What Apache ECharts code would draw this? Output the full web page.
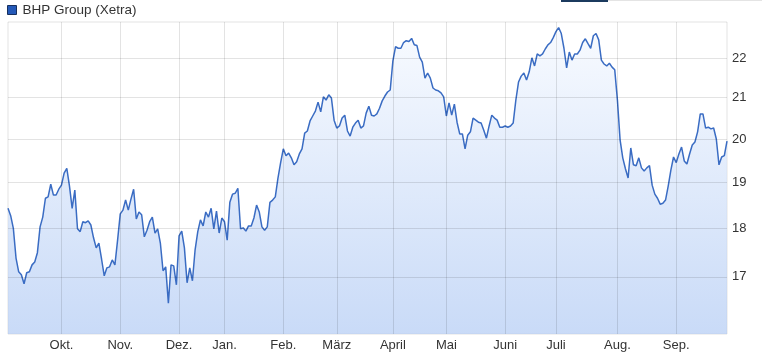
<!DOCTYPE html>
<html>
<head>
<meta charset="utf-8">
<script src="https://cdn.jsdelivr.net/npm/echarts@6/dist/echarts.min.js"></script>
<style>
  html, body { margin: 0; padding: 0; background: #fff; }
  #chart { width: 762px; height: 355px; }
</style>
</head>
<body>
<div id="chart"></div>
<script>
// ---- data (BHP Group, Xetra, EUR; one value per trading day) ----
const seriesName = 'BHP Group (Xetra)';
const monthLabels = ['Sep.', 'Okt.', 'Nov.', 'Dez.', 'Jan.', 'Feb.', 'März', 'April', 'Mai', 'Juni', 'Juli', 'Aug.', 'Sep.'];
const yTicks = [17, 18, 19, 20, 21, 22];

const pricesSepPrev = [18.43,18.27,18.00,17.38,17.10,17.04,16.86,17.08,17.10,17.24,17.30,17.49,18.03,18.24,18.65,18.68,18.96,18.72,18.72,18.85];
const pricesOkt = [18.94,19.21,19.32,18.92,18.43,18.83,17.99,17.93,18.14,18.12,18.16,18.07,17.80,17.59,17.69,17.36,17.02,17.18,17.20,17.34,17.24,17.75];
const pricesNov = [18.31,18.39,18.61,18.39,18.63,18.85,18.20,18.35,18.29,17.82,17.96,18.14,18.24,17.90,17.99,17.69,17.12,17.20,16.48,17.24,17.22,16.84];
const pricesDez = [17.84,17.94,17.59,16.88,17.18,16.92,17.55,17.93,18.18,18.05,18.35,18.24,18.43,17.99,18.37,17.90,18.22];
const pricesJan = [18.14,17.75,18.56,18.74,18.76,18.87,17.99,18.01,17.94,18.05,18.05,18.22,18.50,18.35,18.03,17.96,18.03,18.56,18.61,18.68,19.10,19.45];
const pricesFeb = [19.77,19.61,19.67,19.56,19.40,19.47,19.65,19.77,20.14,20.19,20.43,20.55,20.67,20.89,20.65,21.02,20.94,21.07,20.99,20.45];
const pricesMar = [20.26,20.31,20.50,20.57,20.19,20.07,20.28,20.38,20.45,20.26,20.31,20.62,20.79,20.57,20.55,20.60,20.74,20.92,21.04,21.14,21.19];
const pricesApr = [21.93,22.30,22.26,22.26,22.41,22.46,22.44,22.52,22.35,22.33,22.03,21.90,21.49,21.62,21.49,21.24,21.19,21.17,21.12,21.02];
const pricesMai = [20.55,20.87,20.57,20.84,20.40,20.12,20.12,19.77,20.09,20.17,20.50,20.45,20.40,20.38,20.21,20.02,20.31,20.57,20.50,20.45,20.28,20.28];
const pricesJun = [20.31,20.28,20.31,20.38,20.94,21.39,21.54,21.62,21.44,21.65,22.01,21.80,22.11,22.06,22.11,22.24,22.35,22.41,22.54];
const pricesJul = [22.70,22.81,22.65,22.26,21.75,22.16,21.95,22.11,22.11,22.21,22.41,22.51,22.38,22.26,22.59,22.65,22.48,21.95,21.85,21.80,21.87,21.77,21.70];
const pricesAug = [20.94,19.98,19.56,19.31,19.10,19.79,19.40,19.38,19.56,19.33,19.26,19.33,19.38,18.94,18.74,18.65,18.52,18.54,18.61,18.92,19.28,19.58];
const pricesSep = [19.45,19.65,19.81,19.49,19.42,19.65,19.86,19.93,20.17,20.60,20.60,20.26,20.28,20.24,20.26,20.00,19.40,19.58,19.61,19.95];

const monthlyPrices = [pricesSepPrev, pricesOkt, pricesNov, pricesDez, pricesJan, pricesFeb, pricesMar, pricesApr, pricesMai, pricesJun, pricesJul, pricesAug, pricesSep];

// ---- build categories (one per trading day) ----
const categories = [];
const values = [];
const monthStarts = [];
monthlyPrices.forEach((arr, m) => {
  if (m > 0) monthStarts.push(categories.length);
  arr.forEach((v, d) => {
    categories.push(monthLabels[m] + '#' + (m) + '-' + (d + 1));
    values.push(v);
  });
});
const startSet = new Set(monthStarts);

const gridColor = 'rgba(0,0,0,0.11)';
const markData = [];
yTicks.forEach(t => markData.push({
  yAxis: t,
  label: { show: true, position: 'end', formatter: String(t), color: '#333', fontSize: 13, distance: 5,
           fontFamily: 'Liberation Sans, Arial, sans-serif' }
}));
monthStarts.forEach(i => markData.push({ xAxis: categories[i], label: { show: false } }));

const chart = echarts.init(document.getElementById('chart'), null, { renderer: 'canvas' });
chart.setOption({
  animation: false,
  backgroundColor: '#fff',
  textStyle: { fontFamily: 'Liberation Sans, Arial, sans-serif' },
  legend: {
    left: 7, top: 3, padding: 0,
    itemWidth: 9, itemHeight: 9, itemGap: 10,
    icon: 'rect',
    textStyle: { fontSize: 13.5, color: '#333', fontFamily: 'Liberation Sans, Arial, sans-serif', padding: [0, 0, 0, 1] },
    data: [{ name: seriesName, itemStyle: { color: '#2459b8', borderColor: '#17305e', borderWidth: 1 } }]
  },
  grid: {
    left: 8, right: 35, top: 22, bottom: 21,
    show: true, borderColor: gridColor, borderWidth: 1, backgroundColor: 'transparent'
  },
  xAxis: {
    type: 'category',
    data: categories,
    boundaryGap: false,
    axisLine: { show: false },
    axisTick: { show: false },
    splitLine: { show: false },
    axisLabel: {
      interval: (idx) => startSet.has(idx),
      formatter: (v) => v.split('#')[0],
      color: '#333', fontSize: 13, margin: 5,
      fontFamily: 'Liberation Sans, Arial, sans-serif'
    }
  },
  yAxis: {
    type: 'log',
    logBase: 10,
    min: 15.89,
    max: 22.96,
    position: 'right',
    axisLine: { show: false },
    axisTick: { show: false },
    axisLabel: { show: false },
    splitLine: { show: false }
  },
  series: [{
    name: seriesName,
    type: 'line',
    data: values,
    showSymbol: false,
    symbol: 'none',
    lineStyle: { color: '#3a6cc3', width: 1.5 },
    itemStyle: { color: '#3a6cc3' },
    areaStyle: {
      origin: 'start',
      color: new echarts.graphic.LinearGradient(0, 0, 0, 1, [
        { offset: 0, color: '#f5f9ff' },
        { offset: 1, color: '#b2cbf4' }
      ])
    },
    markLine: {
      silent: true,
      symbol: ['none', 'none'],
      animation: false,
      lineStyle: { color: gridColor, type: 'solid', width: 1 },
      emphasis: { disabled: true },
      data: markData
    }
  }],
  graphic: [
    { type: 'rect', left: 561, top: 0, shape: { width: 47, height: 2 }, style: { fill: '#1b3a5e' } },
    { type: 'rect', left: 608, top: 0, shape: { width: 154, height: 1 }, style: { fill: '#e4e4e4' } }
  ]
});
</script>
</body>
</html>
